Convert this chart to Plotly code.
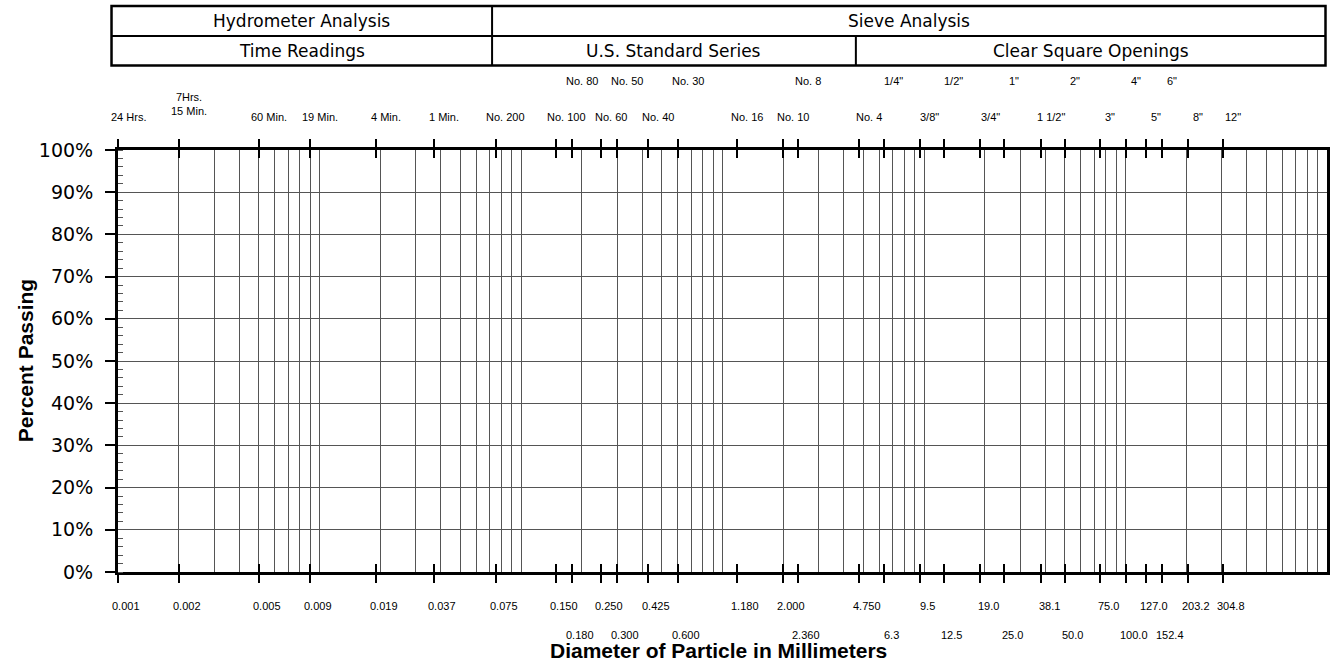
import plotly.graph_objects as go
import math

# ---------------- data ----------------
sizes_mm = [0.001, 0.002, 0.005, 0.009, 0.019, 0.037, 0.075, 0.150, 0.180, 0.250,
            0.300, 0.425, 0.600, 1.180, 2.000, 2.360, 4.750, 6.3, 9.5, 12.5,
            19.0, 25.0, 38.1, 50.0, 75.0, 100.0, 127.0, 152.4, 203.2, 304.8]
size_labels = ["0.001", "0.002", "0.005", "0.009", "0.019", "0.037", "0.075", "0.150", "0.180", "0.250",
               "0.300", "0.425", "0.600", "1.180", "2.000", "2.360", "4.750", "6.3", "9.5", "12.5",
               "19.0", "25.0", "38.1", "50.0", "75.0", "100.0", "127.0", "152.4", "203.2", "304.8"]
sieve_names = ["24 Hrs.", "7Hrs.<br>15 Min.", "60 Min.", "19 Min.", "4 Min.", "1 Min.",
               "No. 200", "No. 100", "No. 80", "No. 60", "No. 50", "No. 40", "No. 30",
               "No. 16", "No. 10", "No. 8", "No. 4", '1/4"', '3/8"', '1/2"', '3/4"', '1"',
               '1 1/2"', '2"', '3"', '4"', '5"', '6"', '8"', '12"']
# 0 = first row, 1 = staggered row, 2 = two-line label
stagger = [0, 2, 0, 0, 0, 0, 0, 0, 1, 0, 1, 0, 1, 0, 0, 1, 0, 1, 0, 1,
           0, 1, 0, 1, 0, 1, 0, 1, 0, 0]
pct_ticks = [0, 10, 20, 30, 40, 50, 60, 70, 80, 90, 100]
pct_labels = [f"{p}%" for p in pct_ticks]
grid_sizes = [m * 10.0 ** k for k in range(-3, 3) for m in range(1, 10)][1:]

header_top = ["Hydrometer Analysis", "Sieve Analysis"]
header_bottom = ["Time Readings", "U.S. Standard Series", "Clear Square Openings"]

# ---------------- figure ----------------
W, H = 1332, 667
ML, MR, MT, MB = 118, 2, 150, 95
PW, PH = W - ML - MR, H - MT - MB


def px_x(p):
    return (p - ML) / PW


def px_y(p):
    return (H - MB - p) / PH


fig = go.Figure()
for ax in ["x", "x2", "x3"]:
    fig.add_trace(go.Scatter(x=[sizes_mm[0]], y=[0], xaxis=ax, yaxis="y", mode="markers",
                             marker=dict(opacity=0), hoverinfo="skip", showlegend=False))

common = dict(type="log", range=[-3, 3], showline=True, linecolor="black", linewidth=3,
              zeroline=False, fixedrange=True)
fig.update_layout(
    width=W, height=H,
    margin=dict(l=ML, r=MR, t=MT, b=MB, pad=0),
    paper_bgcolor="white", plot_bgcolor="white",
    showlegend=False,
    xaxis=dict(**common, tickvals=grid_sizes, ticks="", showticklabels=False,
               showgrid=True, gridcolor="#555555", gridwidth=1, mirror=True),
    xaxis2=dict(**common, overlaying="x", tickvals=sizes_mm, ticks="outside", ticklen=8,
                tickwidth=2, tickcolor="black", showticklabels=False, showgrid=False,
                mirror="ticks"),
    xaxis3=dict(**common, overlaying="x", tickvals=sizes_mm, ticks="inside", ticklen=8,
                tickwidth=2, tickcolor="black", showticklabels=False, showgrid=False,
                mirror="ticks"),
    yaxis=dict(range=[0, 100], tickvals=pct_ticks, ticktext=pct_labels, ticks="outside",
               ticklen=10, tickwidth=1.5, tickcolor="black", showgrid=True,
               gridcolor="#555555", gridwidth=1, showline=True, linecolor="black",
               linewidth=3, mirror=True, zeroline=False, fixedrange=True,
               ticklabelstandoff=8,
               tickfont=dict(family="DejaVu Sans", size=19, color="black"),
               minor=dict(dtick=2, ticks="inside", ticklen=5, tickcolor="#555555",
                          tickwidth=1, showgrid=False)),
)

annotations = []
small = dict(family="Liberation Sans, Arial", size=11, color="black")
top_rows = {0: px_y(117), 1: px_y(80.5), 2: px_y(103.5)}
bot_rows = {0: px_y(606), 1: px_y(635), 2: px_y(606)}
for v, lab, name, s in zip(sizes_mm, size_labels, sieve_names, stagger):
    annotations.append(dict(x=math.log10(v), xref="x", y=bot_rows[s], yref="paper",
                            text=lab, showarrow=False, xanchor="center", yanchor="middle",
                            xshift=8, font=small))
    annotations.append(dict(x=math.log10(v), xref="x", y=top_rows[s], yref="paper",
                            text=name, showarrow=False, xanchor="center", yanchor="middle",
                            xshift=10, font=small))

# header table
xl, xs1, xs2, xr = px_x(111.5), px_x(493), px_x(857.7), px_x(1328.5)
yt, ym, yb = px_y(6), px_y(36), px_y(65.5)
hdr_font = dict(family="DejaVu Sans", size=17, color="black")
for txt, a, b in zip(header_top, [xl, xs1], [xs1, xr]):
    annotations.append(dict(x=(a + b) / 2, y=(yt + ym) / 2, xref="paper", yref="paper",
                            text=txt, showarrow=False, font=hdr_font,
                            xanchor="center", yanchor="middle"))
for txt, a, b in zip(header_bottom, [xl, xs1, xs2], [xs1, xs2, xr]):
    annotations.append(dict(x=(a + b) / 2, y=(ym + yb) / 2, xref="paper", yref="paper",
                            text=txt, showarrow=False, font=hdr_font,
                            xanchor="center", yanchor="middle"))

shapes = [
    dict(type="rect", xref="paper", yref="paper", x0=xl, x1=xr, y0=yb, y1=yt,
         line=dict(color="black", width=2.5)),
    dict(type="line", xref="paper", yref="paper", x0=xl, x1=xr, y0=ym, y1=ym,
         line=dict(color="black", width=2)),
    dict(type="line", xref="paper", yref="paper", x0=xs1, x1=xs1, y0=yb, y1=yt,
         line=dict(color="black", width=2)),
    dict(type="line", xref="paper", yref="paper", x0=xs2, x1=xs2, y0=yb, y1=ym,
         line=dict(color="black", width=2)),
]

title_font = dict(family="Liberation Sans, Arial", size=21, color="black")
annotations.append(dict(x=px_x(720), y=px_y(650), xref="paper", yref="paper",
                        text="<b>Diameter of Particle in Millimeters</b>", showarrow=False,
                        font=title_font, xanchor="center", yanchor="middle"))
annotations.append(dict(x=px_x(25), y=0.5, xref="paper", yref="paper",
                        text="<b>Percent Passing</b>", showarrow=False, textangle=-90,
                        font=title_font, xanchor="center", yanchor="middle"))

fig.update_layout(annotations=annotations, shapes=shapes)
fig.write_html("out.html", config={"displayModeBar": False},
               post_script="document.body.style.margin='0';document.body.style.overflow='hidden';")
